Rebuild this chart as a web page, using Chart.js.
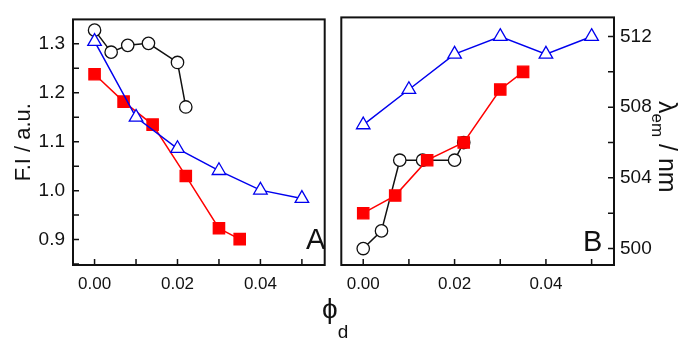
<!DOCTYPE html>
<html>
<head>
<meta charset="utf-8">
<script src="https://cdn.jsdelivr.net/npm/chart.js@4.4.0/dist/chart.umd.min.js"></script>
<style>
body { margin: 0; background: #fff; font-family: "Liberation Sans", Arial, sans-serif; }
#page { position: relative; width: 678px; height: 345px; overflow: hidden; }
#boxA { position: absolute; left: 0; top: 0; }
#boxB { position: absolute; left: 332px; top: 0; }
#xlab { position: absolute; left: 322px; top: 294px; font-size: 28px; color: #111; line-height: 30px; }
#xlab sub { font-size: 19px; vertical-align: -20px; }
#ylabB { position: absolute; left: 682px; top: 101px; transform: rotate(90deg); transform-origin: left top;
         font-size: 25px; line-height: 28px; white-space: nowrap; color: #111; }
#ylabB sub { font-size: 17px; vertical-align: -7px; }
.tag { position: absolute; font-size: 29px; color: #111; line-height: 29px; }
</style>
</head>
<body>
<div id="page">
  <canvas id="boxA" width="334" height="345"></canvas>
  <canvas id="boxB" width="346" height="345"></canvas>
  <div class="tag" style="left:306px; top:225px;">A</div>
  <div class="tag" style="left:583px; top:227px;">B</div>
  <div id="xlab">&#x3D5;<sub>d</sub></div>
  <div id="ylabB">&#x3BB;<sub>em</sub> / nm</div>
</div>
<script>
// phi_d values of the three series
var xCircle = [0, 0.004, 0.008, 0.013, 0.020, 0.022];
var xSquare = [0, 0.007, 0.014, 0.022, 0.030, 0.035];
var xTriangle = [0, 0.010, 0.020, 0.030, 0.040, 0.050];

// panel A: F.I / a.u.
var fiCircle = [1.328, 1.283, 1.297, 1.301, 1.262, 1.171];
var fiSquare = [1.238, 1.182, 1.135, 1.030, 0.923, 0.901];
var fiTriangle = [1.305, 1.150, 1.086, 1.041, 1.001, 0.984];

// panel B: lambda_em / nm
var lamCircle = [500, 501, 505, 505, 505, 506];
var lamSquare = [502, 503, 505, 506, 509, 510];
var lamTriangle = [507, 509, 511, 512, 511, 512];

// tick labels and minor tick marks
var xTicks = [0, 0.02, 0.04];
var xMinor = [0, 0.01, 0.02, 0.03, 0.04, 0.05];
var fiTicks = [0.9, 1.0, 1.1, 1.2, 1.3];
var fiMinor = [0.85, 0.9, 0.95, 1.0, 1.05, 1.1, 1.15, 1.2, 1.25, 1.3];
var lamTicks = [500, 504, 508, 512];
var lamMinor = [500, 502, 504, 506, 508, 510, 512];

function pts(xs, ys) {
    return xs.map(function (x, i) { return { x: x, y: ys[i] }; });
}

function series(xs, ys, kind) {
    var s = { data: pts(xs, ys), borderWidth: 1.5, clip: false, pointBorderWidth: 1.3 };
    if (kind == 'circle') {
        s.borderColor = '#111'; s.pointBackgroundColor = '#fff'; s.pointBorderColor = '#111';
        s.pointStyle = 'circle'; s.pointRadius = 6.2;
    } else if (kind == 'square') {
        s.borderColor = '#f00'; s.pointBackgroundColor = '#f00'; s.pointBorderColor = '#f00';
        s.pointStyle = 'rect'; s.pointRadius = 8;
    } else {
        s.borderColor = '#0000ee'; s.pointBackgroundColor = '#fff'; s.pointBorderColor = '#0000ee';
        s.pointStyle = 'triangle'; s.pointRadius = 7.8;
    }
    return s;
}

// box around the plot with inward tick marks
var framePlugin = {
    id: 'frame',
    beforeDatasetsDraw: function (chart, args, opts) {
        var a = chart.chartArea, c = chart.ctx;
        var sx = chart.scales.x, sy = chart.scales.y;
        c.save();
        c.strokeStyle = '#111';
        c.lineWidth = 2;
        c.strokeRect(a.left, a.top, a.right - a.left, a.bottom - a.top);
        c.lineWidth = 1.5;
        c.beginPath();
        opts.xMinor.forEach(function (v) {
            var px = sx.getPixelForValue(v);
            c.moveTo(px, a.bottom); c.lineTo(px, a.bottom - 6);
        });
        opts.yMinor.forEach(function (v) {
            var py = sy.getPixelForValue(v);
            if (opts.side == 'left') { c.moveTo(a.left, py); c.lineTo(a.left + 6, py); }
            else { c.moveTo(a.right, py); c.lineTo(a.right - 6, py); }
        });
        c.stroke();
        c.restore();
    }
};

Chart.defaults.font.family = '"Liberation Sans", Arial, sans-serif';
Chart.defaults.color = '#111';

// first dataset is drawn on top: triangles over squares over circles
var chartA = new Chart(document.getElementById('boxA'), {
    type: 'scatter',
    data: {
        datasets: [
            series(xTriangle, fiTriangle, 'triangle'),
            series(xSquare, fiSquare, 'square'),
            series(xCircle, fiCircle, 'circle')
        ]
    },
    plugins: [framePlugin],
    options: {
        responsive: false,
        animation: false,
        showLine: true,
        layout: { padding: { top: 15, right: 2, left: 0, bottom: 0 } },
        plugins: {
            legend: { display: false },
            tooltip: { enabled: false },
            frame: { xMinor: xMinor, yMinor: fiMinor, side: 'left' }
        },
        scales: {
            x: {
                type: 'linear', min: -0.0052, max: 0.0555,
                grid: { display: false, drawTicks: false },
                border: { display: false },
                afterBuildTicks: function (s) { s.ticks = xTicks.map(function (v) { return { value: v }; }); },
                afterFit: function (s) { s.height = 80; },
                ticks: { font: { size: 17 }, padding: 9, maxRotation: 0, autoSkip: false,
                         callback: function (v) { return v.toFixed(2); } }
            },
            y: {
                min: 0.848, max: 1.350,
                grid: { display: false, drawTicks: false },
                border: { display: false },
                afterBuildTicks: function (s) { s.ticks = fiTicks.map(function (v) { return { value: v }; }); },
                afterFit: function (s) { s.width = 73; },
                ticks: { font: { size: 19 }, padding: 8, autoSkip: false,
                         callback: function (v) { return v.toFixed(1); } },
                title: { display: true, text: 'F.I / a.u.', font: { size: 22 }, padding: { top: 11, bottom: 0 } }
            }
        }
    }
});

var chartB = new Chart(document.getElementById('boxB'), {
    type: 'scatter',
    data: {
        datasets: [
            series(xTriangle, lamTriangle, 'triangle'),
            series(xSquare, lamSquare, 'square'),
            series(xCircle, lamCircle, 'circle')
        ]
    },
    plugins: [framePlugin],
    options: {
        responsive: false,
        animation: false,
        showLine: true,
        layout: { padding: { top: 14, right: 0, left: 2, bottom: 0 } },
        plugins: {
            legend: { display: false },
            tooltip: { enabled: false },
            frame: { xMinor: xMinor, yMinor: lamMinor, side: 'right' }
        },
        scales: {
            x: {
                type: 'linear', min: -0.0048, max: 0.0549,
                grid: { display: false, drawTicks: false },
                border: { display: false },
                afterBuildTicks: function (s) { s.ticks = xTicks.map(function (v) { return { value: v }; }); },
                afterFit: function (s) { s.height = 80; },
                ticks: { font: { size: 17 }, padding: 9, maxRotation: 0, autoSkip: false,
                         callback: function (v) { return v.toFixed(2); } }
            },
            y: {
                position: 'right',
                min: 499.07, max: 513.08,
                grid: { display: false, drawTicks: false },
                border: { display: false },
                afterBuildTicks: function (s) { s.ticks = lamTicks.map(function (v) { return { value: v }; }); },
                afterFit: function (s) { s.width = 64; },
                ticks: { font: { size: 19 }, padding: 6, autoSkip: false }
            }
        }
    }
});
</script>
</body>
</html>
